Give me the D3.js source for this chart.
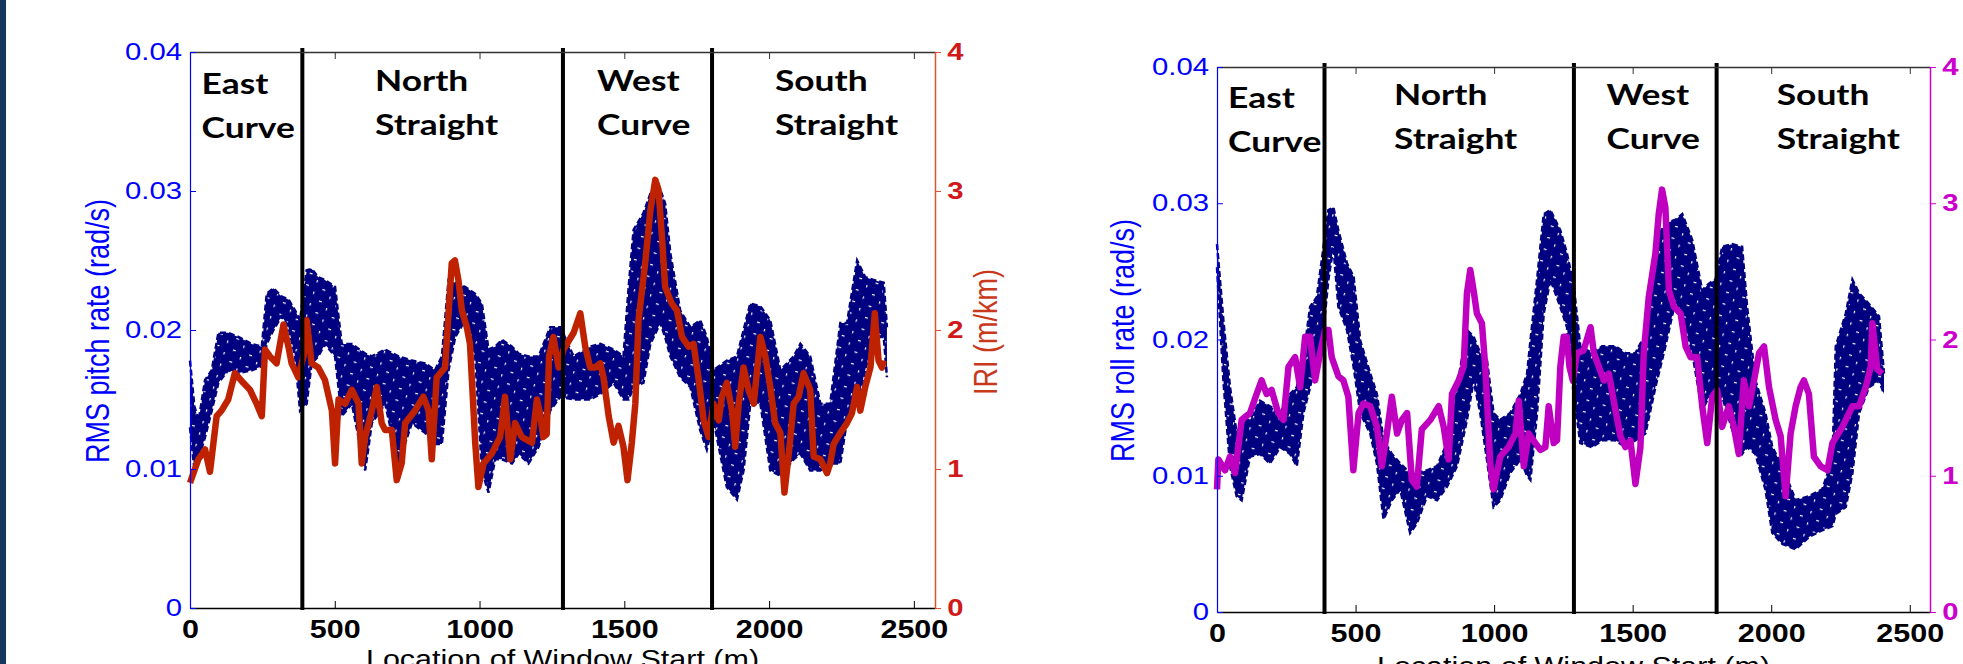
<!DOCTYPE html>
<meta charset="utf-8">
<style>
  body { margin: 0; background: #fff; }
  svg text { font-family: "Liberation Sans", Arial, sans-serif; }
</style>
<script src="https://cdn.jsdelivr.net/npm/d3@7"></script>
<div id="dataviz"></div>
<script>
// axis ticks
var xTicks = [0, 500, 1000, 1500, 2000, 2500];
var rateTicks = [0, 0.01, 0.02, 0.03, 0.04];
var iriTicks = [0, 1, 2, 3, 4];

// track sections and where they change (m)
var sections = [["East", "Curve"], ["North", "Straight"], ["West", "Curve"], ["South", "Straight"]];
var sectionStart = [40, 639, 1406, 2020];
var boundaries = [388, 1288, 1803];

// RMS pitch rate band: [location m, upper run, lower run] (rad/s)
var pitchBand = [
  [0, .0178, .0130], [15, .0145, .0100], [30, .0135, .0108], [52, .0164, .0123], [75, .0171, .0142],
  [98, .0198, .0162], [132, .0198, .0171], [167, .0195, .0169], [213, .0190, .0171], [248, .0188, .0174],
  [265, .0226, .0190], [288, .0230, .0200], [317, .0224, .0210], [340, .0222, .0202], [363, .0214, .0181],
  [380, .0207, .0142], [403, .0243, .0147], [420, .0244, .0176], [443, .0238, .0181], [466, .0236, .0190],
  [501, .0231, .0181], [524, .0190, .0138], [559, .0190, .0147], [605, .0183, .0099], [628, .0181, .0133],
  [674, .0186, .0147], [720, .0181, .0104], [766, .0178, .0133], [812, .0176, .0126], [846, .0171, .0118],
  [870, .0181, .0118], [893, .0236, .0171], [916, .0234, .0195], [950, .0231, .0207], [985, .0226, .0181],
  [1008, .0219, .0099], [1031, .0186, .0083], [1054, .0188, .0107], [1077, .0193, .0107], [1112, .0188, .0104],
  [1135, .0183, .0111], [1169, .0181, .0104], [1204, .0181, .0116], [1244, .0202, .0142], [1279, .0202, .0152],
  [1325, .0181, .0150], [1382, .0188, .0150], [1417, .0190, .0154], [1463, .0186, .0162], [1497, .0181, .0150],
  [1515, .0231, .0150], [1532, .0272, .0159], [1566, .0284, .0162], [1590, .0298, .0190], [1624, .0301, .0205],
  [1641, .0291, .0195], [1659, .0255, .0181], [1693, .0214, .0166], [1728, .0202, .0159], [1762, .0207, .0128],
  [1785, .0195, .0114], [1808, .0171, .0135], [1854, .0178, .0087], [1889, .0181, .0078], [1912, .0200, .0099],
  [1935, .0219, .0147], [1970, .0217, .0147], [2004, .0207, .0099], [2039, .0171, .0095], [2085, .0181, .0107],
  [2108, .0190, .0111], [2142, .0181, .0099], [2177, .0147, .0099], [2211, .0147, .0104], [2246, .0205, .0104],
  [2269, .0205, .0135], [2304, .0250, .0147], [2332, .0238, .0171], [2361, .0236, .0195], [2396, .0234, .0195],
  [2407, .0202, .0166]
];

// IRI along the track, left panel (m/km)
var iriLeft = [
  [0, 0.90], [29, 1.07], [52, 1.14], [69, 0.98], [92, 1.38], [109, 1.42], [132, 1.50], [155, 1.69], [184, 1.62],
  [207, 1.57], [230, 1.47], [248, 1.38], [259, 1.86], [276, 1.81], [299, 1.76], [323, 2.04], [340, 1.88], [351, 1.76],
  [374, 1.66], [392, 1.81], [403, 2.07], [420, 1.76], [443, 1.73], [466, 1.64], [490, 1.42], [501, 1.04], [513, 1.50],
  [536, 1.47], [559, 1.57], [582, 1.47], [593, 1.04], [605, 1.23], [628, 1.42], [645, 1.59], [662, 1.33], [674, 1.28],
  [697, 1.28], [714, 0.92], [731, 1.04], [743, 1.33], [777, 1.42], [806, 1.52], [824, 1.42], [835, 1.07], [852, 1.66],
  [881, 1.73], [904, 2.48], [915, 2.50], [927, 2.36], [939, 2.14], [956, 2.02], [967, 1.90], [985, 1.19], [996, 0.87],
  [1014, 1.04], [1042, 1.11], [1071, 1.23], [1088, 1.52], [1106, 1.07], [1123, 1.33], [1146, 1.23], [1181, 1.19],
  [1198, 1.50], [1209, 1.40], [1220, 1.23], [1232, 1.25], [1240, 1.81], [1255, 1.95], [1273, 1.73], [1290, 1.86],
  [1325, 1.98], [1348, 2.12], [1365, 1.88], [1382, 1.73], [1399, 1.73], [1417, 1.76], [1428, 1.66], [1446, 1.38],
  [1463, 1.19], [1480, 1.31], [1497, 1.16], [1511, 0.92], [1526, 1.19], [1538, 1.47], [1549, 2.07], [1572, 2.48],
  [1590, 2.86], [1607, 3.08], [1618, 3.01], [1630, 2.67], [1641, 2.31], [1664, 2.19], [1682, 2.14], [1699, 1.95],
  [1722, 1.88], [1739, 1.90], [1757, 1.64], [1774, 1.35], [1791, 1.23], [1808, 1.47], [1826, 1.35], [1837, 1.52],
  [1854, 1.62], [1872, 1.42], [1883, 1.16], [1895, 1.47], [1912, 1.73], [1929, 1.57], [1947, 1.47], [1970, 1.95],
  [1987, 1.81], [2004, 1.59], [2021, 1.33], [2039, 1.26], [2053, 0.83], [2068, 1.11], [2085, 1.47], [2102, 1.52],
  [2119, 1.69], [2142, 1.57], [2154, 1.09], [2177, 1.07], [2200, 0.97], [2211, 1.04], [2223, 1.18], [2246, 1.26],
  [2269, 1.33], [2286, 1.40], [2304, 1.59], [2315, 1.42], [2332, 1.59], [2350, 1.73], [2365, 2.12], [2378, 1.78],
  [2390, 1.73], [2396, 1.78]
];

// RMS roll rate band: [location m, upper run, lower run] (rad/s)
var rollBand = [
  [0, .0270, .0253], [23, .0214, .0170], [47, .0165, .0107], [71, .0131, .0085], [89, .0141, .0082],
  [119, .0141, .0114], [155, .0155, .0116], [191, .0151, .0109], [228, .0146, .0121], [264, .0160, .0116],
  [288, .0165, .0107], [312, .0187, .0146], [336, .0224, .0165], [360, .0231, .0190], [378, .0258, .0195],
  [402, .0295, .0244], [420, .0297, .0268], [438, .0280, .0224], [469, .0256, .0207], [493, .0246, .0180],
  [517, .0199, .0146], [553, .0175, .0131], [577, .0160, .0109], [601, .0126, .0068], [631, .0116, .0082],
  [661, .0109, .0090], [697, .0102, .0058], [721, .0102, .0065], [758, .0104, .0085], [794, .0107, .0082],
  [830, .0124, .0092], [866, .0165, .0107], [902, .0207, .0141], [926, .0202, .0170], [950, .0190, .0146],
  [974, .0185, .0112], [998, .0146, .0077], [1022, .0141, .0082], [1058, .0146, .0102], [1095, .0160, .0112],
  [1119, .0175, .0100], [1131, .0199, .0097], [1155, .0244, .0146], [1179, .0292, .0219], [1203, .0295, .0244],
  [1239, .0280, .0224], [1263, .0263, .0209], [1287, .0240, .0160], [1311, .0195, .0124], [1354, .0190, .0121],
  [1390, .0195, .0126], [1438, .0195, .0126], [1474, .0190, .0121], [1510, .0190, .0126], [1546, .0204, .0131],
  [1582, .0273, .0165], [1618, .0285, .0195], [1655, .0288, .0229], [1679, .0292, .0219], [1715, .0273, .0190],
  [1751, .0236, .0148], [1775, .0241, .0158], [1799, .0244, .0158], [1823, .0268, .0158], [1859, .0270, .0134],
  [1895, .0268, .0116], [1913, .0224, .0121], [1943, .0170, .0116], [1979, .0146, .0090], [2004, .0121, .0058],
  [2040, .0107, .0050], [2088, .0082, .0046], [2136, .0085, .0055], [2184, .0090, .0060], [2221, .0112, .0063],
  [2233, .0195, .0072], [2269, .0219, .0077], [2293, .0244, .0102], [2317, .0234, .0146], [2353, .0226, .0165],
  [2389, .0217, .0170], [2407, .0175, .0160]
];

// IRI along the track, right panel (m/km)
var iriRight = [
  [0, 0.90], [5, 1.12], [29, 1.04], [47, 1.14], [65, 1.02], [89, 1.41], [119, 1.46], [143, 1.60], [161, 1.70],
  [179, 1.60], [197, 1.63], [221, 1.46], [240, 1.41], [258, 1.80], [282, 1.87], [300, 1.65], [318, 2.02], [336, 2.02],
  [354, 1.70], [372, 1.90], [390, 2.07], [402, 2.07], [414, 1.87], [438, 1.73], [456, 1.70], [474, 1.58], [492, 1.04],
  [511, 1.46], [529, 1.53], [553, 1.51], [577, 1.36], [595, 1.07], [613, 1.31], [631, 1.58], [650, 1.31], [667, 1.41],
  [686, 1.46], [703, 0.97], [721, 0.92], [739, 1.34], [770, 1.41], [800, 1.51], [818, 1.36], [836, 1.12], [848, 1.60],
  [872, 1.70], [890, 1.80], [902, 2.34], [914, 2.51], [926, 2.36], [938, 2.19], [956, 2.12], [968, 1.80], [986, 1.09],
  [998, 0.90], [1022, 1.14], [1052, 1.21], [1077, 1.31], [1089, 1.55], [1107, 1.07], [1125, 1.31], [1149, 1.24],
  [1167, 1.19], [1185, 1.21], [1197, 1.51], [1215, 1.24], [1227, 1.26], [1239, 1.80], [1251, 2.02], [1262, 2.02],
  [1272, 1.80], [1284, 1.70], [1299, 1.90], [1323, 1.92], [1348, 2.09], [1360, 1.90], [1378, 1.80], [1396, 1.70],
  [1414, 1.75], [1438, 1.48], [1456, 1.29], [1474, 1.21], [1492, 1.26], [1510, 0.94], [1528, 1.21], [1540, 1.90],
  [1558, 2.31], [1582, 2.63], [1594, 2.92], [1606, 3.10], [1618, 2.97], [1631, 2.36], [1649, 2.24], [1673, 2.19],
  [1691, 1.95], [1709, 1.87], [1733, 1.87], [1751, 1.51], [1769, 1.24], [1787, 1.58], [1805, 1.63], [1823, 1.36],
  [1847, 1.51], [1865, 1.36], [1883, 1.16], [1901, 1.70], [1920, 1.51], [1938, 1.70], [1956, 1.90], [1974, 1.95],
  [1992, 1.65], [2016, 1.41], [2034, 1.29], [2052, 0.85], [2070, 1.31], [2088, 1.51], [2106, 1.65], [2118, 1.70],
  [2136, 1.60], [2154, 1.14], [2178, 1.07], [2203, 1.04], [2221, 1.24], [2257, 1.36], [2293, 1.51], [2317, 1.51],
  [2341, 1.65], [2359, 1.80], [2365, 2.12], [2383, 1.78], [2401, 1.75]
];

/**
 * setup
 */
var W = 1963, H = 664;
var S = 1.22; // the picture's text is stretched sideways by about this much
var xMax = 2573;
var navy = "#000080";

var svg = d3.select("#dataviz").append("svg")
    .attr("width", W)
    .attr("height", H)

// speckled fill for the band of overlapping dashed runs
var pat = svg.append("defs").append("pattern")
    .attr("id", "speckle")
    .attr("patternUnits", "userSpaceOnUse")
    .attr("patternTransform", "rotate(17)")
    .attr("width", 17).attr("height", 12)
pat.append("rect").attr("width", 17).attr("height", 12).attr("fill", navy)
pat.append("rect").attr("x", 2).attr("y", 2).attr("width", 3).attr("height", 1.2).attr("fill", "#fff")
pat.append("rect").attr("x", 11).attr("y", 7).attr("width", 1.2).attr("height", 2.5).attr("fill", "#fff")

svg.append("rect").attr("x", 0).attr("y", 0).attr("width", 6).attr("height", H).attr("fill", "#17365d")

var rateFmt = function(d) { return d === 0 ? "0" : d.toFixed(2) }

function drawPanel(o) {
    var g = svg.append("g")
    var x = d3.scaleLinear().domain([0, xMax]).range([o.left, o.right])
    var yRate = d3.scaleLinear().domain([0, 0.04]).range([o.bottom, o.top])
    var yIri = d3.scaleLinear().domain([0, 4]).range([o.bottom, o.top])

    // band of repeated runs
    g.append("path").datum(o.band)
        .attr("fill", "url(#speckle)")
        .attr("d", d3.area().x(d => x(d[0])).y0(d => yRate(d[2])).y1(d => yRate(d[1])))
    ;[1, 2].forEach(function(k) {
        g.append("path").datum(o.band)
            .attr("fill", "none")
            .attr("stroke", navy)
            .attr("stroke-width", 2.5)
            .attr("stroke-dasharray", "6,3")
            .attr("d", d3.line().x(d => x(d[0])).y(d => yRate(d[k])))
    })

    // IRI
    g.append("path").datum(o.iri)
        .attr("fill", "none")
        .attr("stroke", o.iriColor)
        .attr("stroke-width", 6.5)
        .attr("stroke-linejoin", "round")
        .attr("d", d3.line().x(d => x(d[0])).y(d => yIri(d[1])))

    // section boundaries
    g.selectAll(".bound").data(boundaries).join("line")
        .attr("x1", d => x(d)).attr("x2", d => x(d))
        .attr("y1", o.top - 4).attr("y2", o.bottom + 2)
        .attr("stroke", "#000")
        .attr("stroke-width", 4)

    // bottom axis
    var ax = g.append("g")
        .attr("transform", "translate(0," + o.bottom + ")")
        .call(d3.axisBottom(x).tickValues(xTicks).tickSizeInner(-7).tickSizeOuter(0).tickPadding(12).tickFormat(d3.format("d")))
    ax.select(".domain").attr("stroke", "#000").attr("stroke-width", 1.5)
    ax.selectAll("line").attr("stroke", "#000")
    ax.selectAll("text")
        .attr("transform", "scale(" + S + ",1)")
        .attr("fill", "#000").attr("font-size", 25).attr("font-weight", "bold")

    // top axis
    var at = g.append("g")
        .attr("transform", "translate(0," + o.top + ")")
        .call(d3.axisTop(x).tickValues(xTicks).tickSizeInner(-7).tickSizeOuter(0).tickFormat(""))
    at.select(".domain").attr("stroke", "#333").attr("stroke-width", 1.5)
    at.selectAll("line").attr("stroke", "#333")

    // left axis
    var al = g.append("g")
        .attr("transform", "translate(" + o.left + ",0)")
        .call(d3.axisLeft(yRate).tickValues(rateTicks).tickSizeInner(-6).tickSizeOuter(0).tickPadding(6.5).tickFormat(rateFmt))
    al.select(".domain").attr("stroke", "#0000ff").attr("stroke-width", 1.2)
    al.selectAll("line").attr("stroke", "#0000ff")
    al.selectAll("text")
        .attr("transform", "scale(" + S + ",1)")
        .attr("fill", "#0000ff").attr("font-size", 24)

    // right axis
    var ar = g.append("g")
        .attr("transform", "translate(" + o.right + ",0)")
        .call(d3.axisRight(yIri).tickValues(iriTicks).tickSizeInner(6).tickSizeOuter(0).tickPadding(4).tickFormat(d3.format("d")))
    ar.select(".domain").attr("stroke", o.axisColor).attr("stroke-width", 1.5)
    ar.selectAll("line").attr("stroke", o.axisColor)
    ar.selectAll("text")
        .attr("transform", "scale(" + S + ",1)")
        .attr("fill", o.labelColor).attr("font-size", 24).attr("font-weight", "bold")

    // axis titles
    g.append("text")
        .attr("transform", "translate(" + o.yTitleX + "," + ((o.top + o.bottom) / 2 + 1) + ") scale(" + S + ",1) rotate(-90)")
        .attr("text-anchor", "middle").attr("dy", "0.35em")
        .attr("fill", "#0000ff").attr("font-size", 27)
        .text(o.yTitle)
    if (o.iriTitle) {
        g.append("text")
            .attr("transform", "translate(" + (o.right + 50) + "," + ((o.top + o.bottom) / 2 + 2) + ") scale(" + S + ",1) rotate(-90)")
            .attr("text-anchor", "middle").attr("dy", "0.35em")
            .attr("fill", o.titleColor).attr("font-size", 27)
            .text(o.iriTitle)
    }
    g.append("text")
        .attr("transform", "translate(" + ((o.left + o.right) / 2) + "," + o.xTitleY + ") scale(" + S + ",1)")
        .attr("text-anchor", "middle")
        .attr("fill", "#000").attr("font-size", 25)
        .text("Location of Window Start (m)")

    // section names
    var drop = [3, 0, 0, 0]
    sections.forEach(function(s, i) {
        s.forEach(function(word, j) {
            g.append("text")
                .attr("transform", "translate(" + x(sectionStart[i]) + "," + (yIri(j ? 3.40 : 3.72) + drop[i]) + ") scale(" + S + ",1)")
                .style("font-family", "Lato, 'Open Sans', sans-serif")
                .attr("font-weight", "bold").attr("font-size", 29).attr("fill", "#000")
                .text(word)
        })
    })
}

drawPanel({
    left: 190, right: 935, top: 52, bottom: 608,
    band: pitchBand, iri: iriLeft,
    iriColor: "#bf2200", axisColor: "#d9532c", labelColor: "#d01a1a", titleColor: "#c8381c",
    yTitle: "RMS pitch rate (rad/s)", yTitleX: 97, iriTitle: "IRI (m/km)", xTitleY: 668
})

drawPanel({
    left: 1217, right: 1930, top: 67, bottom: 612,
    band: rollBand, iri: iriRight,
    iriColor: "#c000c0", axisColor: "#cc00cc", labelColor: "#cc00cc", titleColor: "#cc00cc",
    yTitle: "RMS roll rate (rad/s)", yTitleX: 1122, iriTitle: null, xTitleY: 675
})
</script>
